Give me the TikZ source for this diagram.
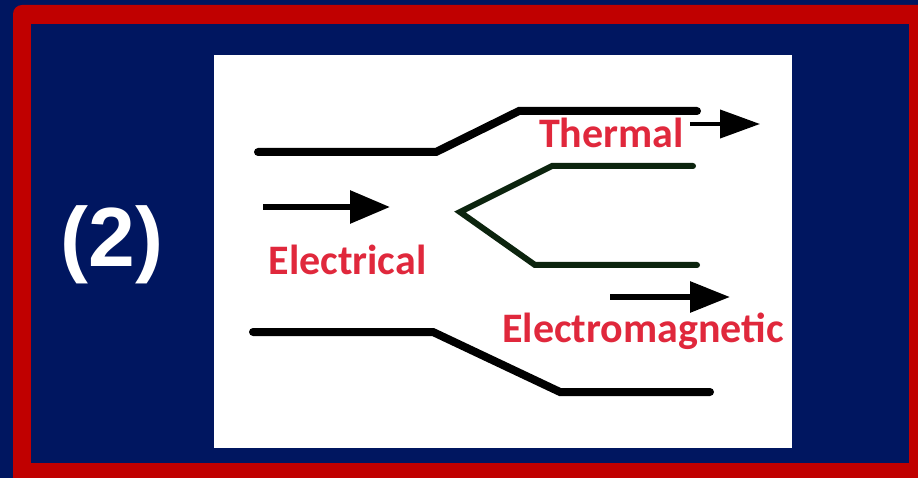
\documentclass[tikz,border=0pt]{standalone}
\usepackage{fontspec}
\setmainfont{Carlito}
\newfontfamily\numfont{Liberation Sans}
\usetikzlibrary{arrows.meta}
\definecolor{navy}{RGB}{0,22,96}
\definecolor{frame}{RGB}{192,0,0}
\definecolor{lbl}{RGB}{224,40,60}
\definecolor{vgreen}{RGB}{12,36,14}
\tikzset{
  wire/.style={line width=8pt, black, line join=miter, line cap=round},
  vwire/.style={line width=6pt, vgreen, line join=miter, line cap=round},
  flow/.style={line width=6pt, black, -{Triangle[length=40pt,width=32pt]}},
  lab/.style={anchor=base, text=lbl, font=\bfseries\fontsize{42}{44}\selectfont, inner sep=0pt},
}
\begin{document}
\begin{tikzpicture}[x=1pt,y=-1pt]
\useasboundingbox (0,0) rectangle (918,478);
\clip (0,0) rectangle (918,478);
\fill[navy] (0,0) rectangle (918,478);
\fill[frame, rounded corners=9pt] (13,5) rectangle (940,500);
\fill[navy] (31,24) rectangle (909,463);
\fill[white] (214,55) rectangle (792,448);
% label
\node[anchor=base, text=white, font=\numfont\bfseries\fontsize{84}{90}\selectfont, inner sep=0pt] (num) at (112,267) {(2)};
% coordinates
\coordinate (t1) at (258,152);
\coordinate (t2) at (436,152);
\coordinate (t3) at (519,111);
\coordinate (t4) at (697,111);
\coordinate (b1) at (253,332);
\coordinate (b2) at (433,332);
\coordinate (b3) at (560,392);
\coordinate (b4) at (710,392);
\coordinate (v0) at (460,212);
\coordinate (v1) at (552,166);
\coordinate (v2) at (693,166);
\coordinate (v3) at (535,265);
\coordinate (v4) at (697,265);
\coordinate (ea0) at (263,207);
\coordinate (ea1) at (390,207);
\coordinate (ta0) at (690,124);
\coordinate (ta1) at (760,124);
\coordinate (ma0) at (610,297);
\coordinate (ma1) at (730,297);
% wires
\draw[wire] (t1) -- (t2) -- (t3) -- (t4);
\draw[wire] (b1) -- (b2) -- (b3) -- (b4);
\draw[vwire] (v2) -- (v1) -- (v0) -- (v3) -- (v4);
% arrows
\draw[flow] (ea0) -- (ea1);
\draw[flow, line width=4pt, -{Triangle[length=40pt,width=28pt]}] (ta0) -- (ta1);
\draw[flow, -{Triangle[length=40pt,width=30pt]}] (ma0) -- (ma1);
% labels
\node[lab] (elec) at (347.5,275) {Electrical};
\node[lab] (therm) at (611.5,148) {Thermal};
\node[lab] (emag) at (643,342) {Electromagnetic};
\end{tikzpicture}
\end{document}
